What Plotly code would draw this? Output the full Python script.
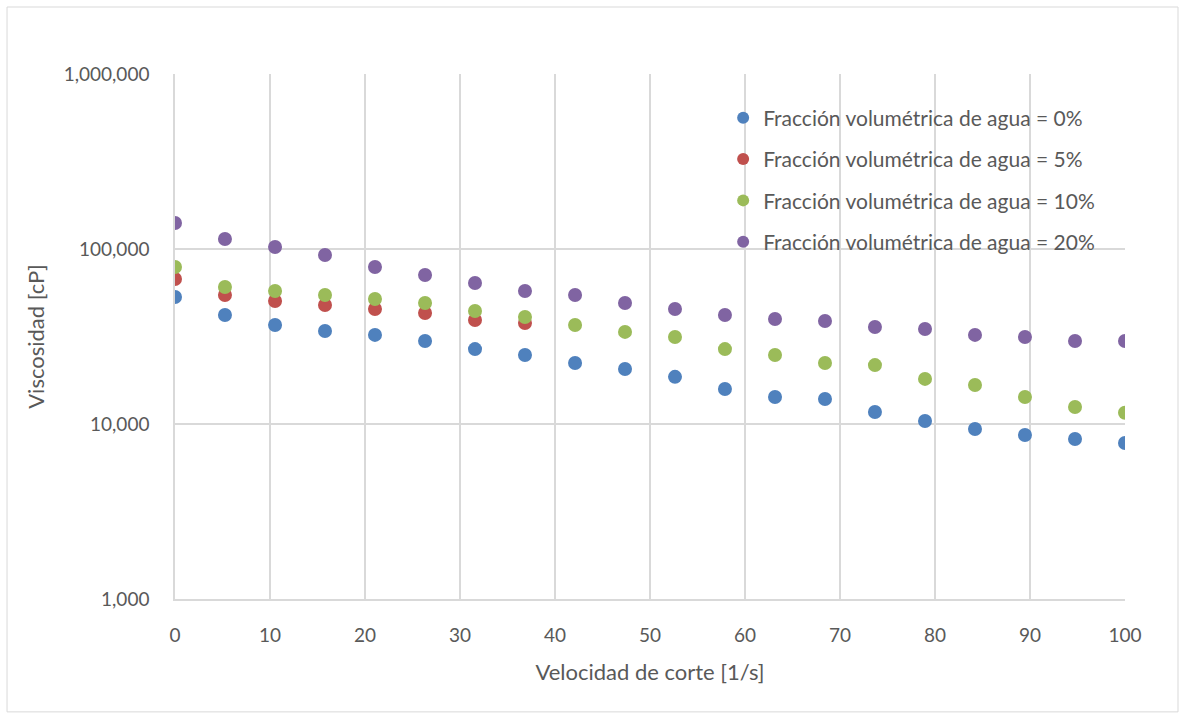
import plotly.graph_objects as go

shear_rate = [0, 5.26, 10.53, 15.79, 21.05, 26.32, 31.58, 36.84, 42.11, 47.37,
              52.63, 57.89, 63.16, 68.42, 73.68, 78.95, 84.21, 89.47, 94.74, 100]

visc_0 = [53200, 42000, 36800, 34000, 32300, 29800, 26800, 24800, 22300, 20600,
          18600, 15850, 14260, 13900, 11700, 10400, 9360, 8650, 8210, 7790]
visc_5 = [67400, 54600, 50400, 47900, 45400, 43100, 39300, 37800]
visc_10 = [78900, 60600, 57500, 54600, 51800, 49100, 44200, 40900, 36800, 33600,
           31400, 26800, 24800, 22300, 21700, 18100, 16700, 14260, 12500, 11600]
visc_20 = [140800, 114000, 102600, 92400, 78900, 71000, 63900, 57500, 54600, 49100,
           45400, 42000, 39800, 38800, 35800, 34900, 32300, 31400, 29800, 29800]

names = ["Fracción volumétrica de agua = 0%", "Fracción volumétrica de agua = 5%",
         "Fracción volumétrica de agua = 10%", "Fracción volumétrica de agua = 20%"]
colors = ["#4F81BD", "#C0504D", "#9BBB59", "#8064A2"]
series = [visc_0, visc_5, visc_10, visc_20]

fig = go.Figure()
for i, (nm, col, ys) in enumerate(zip(names, colors, series)):
    fig.add_trace(go.Scatter(
        x=shear_rate[:len(ys)], y=ys, mode="markers", name=nm,
        legendgroup=f"g{i}",
        marker=dict(color=col, size=14, line=dict(width=0)),
    ))

font_family = "Lato, 'Open Sans', sans-serif"
text_col = "#595959"
grid_col = "#D9D9D9"

fig.update_layout(
    width=1185, height=721,
    margin=dict(l=175, r=60, t=74, b=122),
    paper_bgcolor="white", plot_bgcolor="white",
    font=dict(family=font_family, color=text_col, size=19),
    showlegend=True,
    legend=dict(x=0.577, y=0.955, xanchor="left", yanchor="top",
                bgcolor="rgba(0,0,0,0)", font=dict(size=21, color=text_col),
                tracegroupgap=11, itemsizing="constant"),
    xaxis=dict(range=[0, 100], dtick=10, tick0=0, showgrid=True, gridcolor=grid_col,
               gridwidth=1.5, zeroline=False, showline=True, linecolor=grid_col,
               linewidth=1.5, ticks="", ticklabelstandoff=18,
               tickfont=dict(size=19, color=text_col),
               title=dict(text="Velocidad de corte [1/s]", font=dict(size=22, color=text_col),
                          standoff=20)),
    yaxis=dict(type="log", range=[3, 6], dtick=1, tickformat=",d", showgrid=True,
               gridcolor=grid_col, gridwidth=1.5, zeroline=False, showline=True,
               linecolor=grid_col, linewidth=1.5, ticks="", ticklabelstandoff=20,
               tickfont=dict(size=19, color=text_col),
               title=dict(text="Viscosidad [cP]", font=dict(size=22, color=text_col),
                          standoff=13)),
    shapes=[dict(type="rect", xref="paper", yref="paper",
                 x0=-0.1768, x1=1.0558, y0=-0.215, y1=1.1276,
                 line=dict(color="#D9D9D9", width=1), fillcolor="rgba(0,0,0,0)", layer="below")],
)

fig.write_html("out.html")
